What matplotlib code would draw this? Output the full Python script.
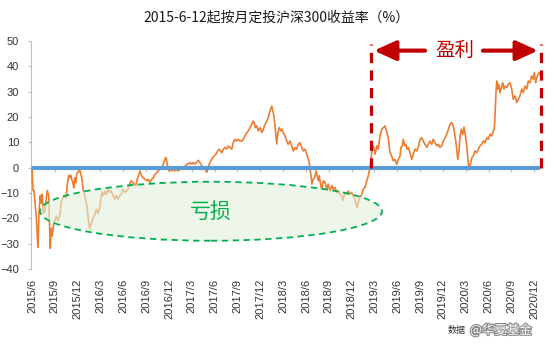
import numpy as np
import matplotlib
matplotlib.use("Agg")
import matplotlib.pyplot as plt
from matplotlib.patches import Ellipse
import matplotlib.patheffects as pe

# calendar days since 2015-06-12 (first monthly investment)
days = [
    0, 4, 8, 13, 17, 21, 24, 28, 33, 37,
    41, 45, 51, 57, 61, 67, 69, 73, 77, 81,
    87, 93, 97, 104, 111, 117, 124, 131, 137, 141,
    147, 151, 155, 160, 164, 167, 171, 175, 179, 184,
    191, 195, 200, 204, 211, 217, 221, 227, 231, 237,
    244, 251, 257, 264, 271, 275, 280, 285, 291, 297,
    304, 311, 317, 324, 331, 337, 344, 351, 357, 364,
    371, 377, 384,
    389, 396, 403, 409, 416, 421, 428, 432, 439, 445,
    452, 459, 465, 472, 479, 485, 492, 499, 505, 512,
    519, 525, 532, 536, 541, 547, 552, 559, 565, 572,
    579, 585, 592, 599, 605, 612, 619, 625, 632, 639,
    645, 652, 659, 665, 672, 679, 685, 692, 699, 703,
    709, 716, 723, 729, 736, 743, 749, 759, 765, 772,
    779, 785, 792, 799, 805, 812, 819, 825, 832, 839,
    845, 852, 859, 865, 872, 879, 885, 889, 893, 899,
    905, 912, 919, 925, 932, 939, 945, 952, 959, 963,
    968, 973, 979, 984, 989, 995, 1000, 1005, 1012, 1019,
    1025, 1032, 1039, 1045, 1052, 1059, 1065, 1072, 1079, 1085,
    1092, 1099, 1105, 1109, 1112, 1116, 1120, 1125, 1131, 1136,
    1141, 1145, 1149, 1155, 1159, 1165, 1172, 1179, 1185, 1192,
    1199, 1205, 1212, 1219, 1225, 1232, 1239, 1243, 1248, 1253,
    1259, 1265, 1272, 1279, 1285, 1292, 1296, 1301, 1305, 1312,
    1319, 1325, 1332, 1339, 1345, 1352, 1356, 1360, 1365, 1372,
    1379, 1385, 1392, 1399, 1405, 1412, 1419, 1425, 1432, 1439,
    1445, 1452, 1459, 1465, 1472, 1476, 1481, 1485, 1491, 1496,
    1501, 1505, 1512, 1519, 1525, 1532, 1539, 1545, 1552, 1559,
    1565, 1572, 1579, 1585, 1592, 1599, 1605, 1612, 1619, 1625,
    1632, 1639, 1645, 1652, 1659, 1665, 1672, 1679, 1685, 1689,
    1695, 1699, 1703, 1708, 1712, 1717, 1723, 1728, 1733, 1739,
    1743, 1748, 1755, 1760, 1765, 1772, 1779, 1785, 1792, 1799,
    1805, 1812, 1819, 1825, 1832, 1839, 1845, 1849, 1852, 1856,
    1859, 1863, 1867, 1872, 1879, 1883, 1888, 1893, 1899, 1905,
    1912, 1919, 1925, 1932, 1939, 1945, 1952, 1959, 1965, 1972,
    1979, 1985, 1992, 1999, 2005, 2009, 2015, 2021, 2028, 2032,
]

# 定投收益率 (%)
returns = [
    0, -9, -9, -15, -19, -27, -31.4, -17.6, -11, -14,
    -10.5, -18, -17, -12, -9, -11, -19, -31.8, -24, -27,
    -22, -20, -19, -21, -19, -13.7, -11.7, -11, -12, -7,
    -3, -4, -3, -5, -6, -8, -4, -6, -2.5, -1.8,
    -0.8, -2.5, -4.5, -8.5, -11, -13.7, -16.4, -21.6, -24.3, -22,
    -20, -18.7, -16.4, -18, -15.6, -13, -9.7, -11, -9.3, -10.5,
    -8.5, -9.7, -9.3, -11, -12.4, -11, -12.4, -11, -10.5, -8.5,
    -9.7, -9.3, -8.5,
    -7, -5.2, -5.8, -6.5, -7, -4.5, -2.6, -1.3, -3.3, -4,
    -4.5, -5.2, -4.5, -5.8, -4.5, -4, -2.6, -2, -1.3, -0.6,
    0, 1.4, 3.4, 4, 1.4, -1.3, -0.6, -1.3, -0.6, -1.3,
    -0.6, -1.3, -0.6, -0.2, 0, 0.6, 1.4, 1.4, 2, 1.4,
    2, 1.4, 2.2, 2.9, 2, 0.8, 0, -0.6, -1.8, -0.6,
    1.4, 2.9, 4, 4.6, 5.3, 6.6, 7.3, 5.9, 7.3, 8,
    7.3, 8.6, 8, 7.3, 9.9, 11.2, 10.5, 11.2, 10.5, 10.5,
    11.2, 12.5, 13.8, 14.5, 15.8, 17.1, 18.4, 17.8, 15.8, 16.5,
    14.5, 15.8, 13.8, 15.1, 17.1, 18.4, 19.7, 22.4, 24.3, 22.4,
    20.4, 15.2, 9.3, 13.9, 15.8, 14.5, 15.1, 13.8, 12.5, 10.5,
    9.2, 10.5, 8.6, 6.6, 7.9, 7.3, 9.2, 9.9, 7.9, 6.6,
    7.3, 5.3, 3.5, 2, -0.6, -3.2, -6.5, -4.5, -4, -1.3,
    -3.2, -5.2, -3.2, -7.1, -8.5, -5.2, -5.8, -8.5, -6.5, -9.2,
    -7.1, -8.5, -7.8, -9.8, -9.2, -10.5, -11.2, -13, -11.2, -9.8,
    -10.5, -9.2, -10.5, -9.8, -11.2, -12.4, -14.4, -15.7, -13.7, -11.8,
    -10.5, -8.5, -7.8, -5.2, -3.2, 0, 3.3, 7.3, 8.6, 5.3,
    8.6, 7.3, 12.5, 15.2, 15.8, 16.5, 14, 11.8, 6, 4.5,
    2.7, 3.3, 1.3, 3.3, 4.6, 8, 8.6, 11.2, 8.6, 9.2,
    7.3, 8, 5.9, 3.3, 5.3, 7.3, 6.6, 8, 11.2, 11.8,
    10.5, 9.2, 8, 9.2, 10.5, 9.2, 11.2, 9.9, 8.6, 9.2,
    8, 8.6, 10.5, 11.8, 13.1, 15, 17.1, 17.8, 16.5, 14.5,
    10.5, 7.3, 3.3, 6.6, 12, 15.2, 13.1, 16, 13, 8.6,
    4, -0.8, 2, 4, 4.6, 6.6, 5.9, 7.3, 8.6, 9.2,
    10.5, 9.9, 11.8, 11.2, 13.2, 12.5, 14.5, 15.2, 20.4, 29.6,
    34.2, 31, 32.9, 29.6, 32.2, 33.5, 31, 32.2, 31.6, 32.9,
    33.5, 31, 27, 28.3, 25.7, 27, 28.3, 31, 29.6, 32.2,
    31, 34.2, 33.5, 36.2, 35, 37.5, 33.5, 36.2, 37.5, 36.9,
]

tick_labels = [
    "2015/6", "2015/9", "2015/12", "2016/3", "2016/6", "2016/9",
    "2016/12", "2017/3", "2017/6", "2017/9", "2017/12", "2018/3",
    "2018/6", "2018/9", "2018/12", "2019/3", "2019/6", "2019/9",
    "2019/12", "2020/3", "2020/6", "2020/9", "2020/12",
]

profit_start_day = 1354
profit_end_day = 2036

days = np.array(days)
returns = np.array(returns)
assert len(days) == len(returns)

plt.rcParams["font.family"] = ["Liberation Sans", "Noto Sans CJK SC"]
CJK = ["Noto Sans CJK SC", "DejaVu Sans"]

fig = plt.figure(figsize=(5.54, 3.49), dpi=100)
ax = fig.add_axes([31 / 554, 1 - 269 / 349, 512 / 554, 228 / 349])

ax.plot(days, returns, color="#ED7D31", lw=1.2, zorder=3)
ax.plot([days[0], days[-1]], [0, 0], color="#5B9BD5", lw=3, zorder=4,
        solid_capstyle="butt")

ax.set_xlim(-4, 2044)
ax.set_ylim(-40, 50)
ax.set_yticks(np.arange(-40, 51, 10))
ax.tick_params(axis="y", labelsize=8, labelcolor="#333333", length=2.5,
               color="#BFBFBF", width=0.8, pad=6)

quarter = 365.25 / 4
ax.set_xticks(np.arange(len(tick_labels)) * quarter)
ax.set_xticklabels(tick_labels, rotation=90)
ax.tick_params(axis="x", labelsize=8, labelcolor="#333333", length=0, pad=7)

for s in ["top", "right", "bottom"]:
    ax.spines[s].set_visible(False)
ax.spines["left"].set_color("#BFBFBF")
ax.spines["left"].set_linewidth(0.8)

# small category ticks on the zero line
sec = ax.secondary_xaxis(40 / 90)
sec.set_xticks(np.arange(len(tick_labels)) * quarter)
sec.tick_params(axis="x", length=3, color="#BFBFBF", labelbottom=False,
                labeltop=False, direction="out")
sec.spines["bottom"].set_visible(False)
sec.spines["top"].set_visible(False)

# 亏损 ellipse
ell = Ellipse((716, -17.2), 1368, 23.3, facecolor=(0.886, 0.941, 0.851, 0.6),
              edgecolor="#00B050", lw=1.3, ls=(0, (3.5, 2.5)), zorder=5)
ax.add_patch(ell)
ax.text(715, -17.5, "亏损", family=CJK, fontsize=15, color="#00B050",
        ha="center", va="center", zorder=6)

# 盈利 markers
red = "#C00000"
for d in [profit_start_day, profit_end_day]:
    ax.plot([d, d], [0, 48.7], color=red, lw=2.3, ls=(0, (3.2, 2.3)),
            zorder=6, clip_on=False)
ax.text(1692, 46.3, "盈利", family=CJK, fontsize=14, color=red,
        ha="center", va="center", zorder=6)
arrow = dict(arrowstyle="-|>,head_length=1.1,head_width=0.5", color=red,
             lw=3, shrinkA=0, shrinkB=0, mutation_scale=12)
ax.annotate("", xy=(1368, 46.2), xytext=(1572, 46.2), arrowprops=arrow,
            zorder=6)
ax.annotate("", xy=(2024, 46.2), xytext=(1804, 46.2), arrowprops=arrow,
            zorder=6)

fig.text(0.5, 1 - 18 / 349, "2015-6-12起按月定投沪深300收益率（%）",
         family=CJK, fontsize=10, color="#1a1a1a", ha="center", va="center")

fig.text(448 / 554, 1 - 330 / 349, "数据", family=CJK, fontsize=6.5,
         color="#333333", ha="left", va="center")
fig.text(470 / 554, 1 - 330 / 349, "@华夏基金", family=CJK, fontsize=9,
         color="white", ha="left", va="center",
         path_effects=[pe.withStroke(linewidth=1.6, foreground="#8a8a8a")])

fig.savefig("out.png", dpi=100)
